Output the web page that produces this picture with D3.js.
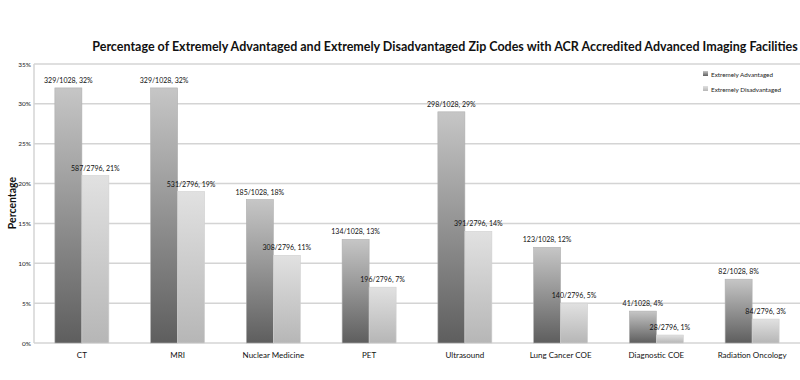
<!DOCTYPE html>
<html><head><meta charset="utf-8">
<script src="https://cdn.jsdelivr.net/npm/d3@7"></script>
<style>body{margin:0;background:#fff}svg{display:block}text{font-family:Lato,"Open Sans",sans-serif}</style>
</head><body><svg id="c" width="800" height="380"></svg>
<script>
const categories = ["CT","MRI","Nuclear Medicine","PET","Ultrasound","Lung Cancer COE","Diagnostic COE","Radiation Oncology"];
const seriesNames = ["Extremely Advantaged","Extremely Disadvantaged"];
const advantaged = [32,32,18,13,29,12,4,8];
const disadvantaged = [21,19,11,7,14,5,1,3];
const advLabels = ["329/1028, 32%","329/1028, 32%","185/1028, 18%","134/1028, 13%","298/1028, 29%","123/1028, 12%","41/1028, 4%","82/1028, 8%"];
const disLabels = ["587/2796, 21%","531/2796, 19%","308/2796, 11%","196/2796, 7%","391/2796, 14%","140/2796, 5%","28/2796, 1%","84/2796, 3%"];
const yTicks = [0,5,10,15,20,25,30,35];

const svg = d3.select("#c");
const m = {l:34, r:0, t:64, b:37};
const W = 800, H = 380;
const x = d3.scaleBand().domain(categories).range([m.l, W-m.r]);
const y = d3.scaleLinear().domain([0,35]).range([H-m.b, m.t]);
const barW = 27;

const defs = svg.append("defs");
const g1 = defs.append("linearGradient").attr("id","gA").attr("x1",0).attr("y1",1).attr("x2",0).attr("y2",0);
g1.append("stop").attr("offset","0%").attr("stop-color","#5e5e5e");
g1.append("stop").attr("offset","100%").attr("stop-color","#c6c6c6");
const g2 = defs.append("linearGradient").attr("id","gD").attr("x1",0).attr("y1",1).attr("x2",0).attr("y2",0);
g2.append("stop").attr("offset","0%").attr("stop-color","#b6b6b6");
g2.append("stop").attr("offset","100%").attr("stop-color","#e1e1e1");

// gridlines
svg.append("g").selectAll("line").data(yTicks).join("line")
  .attr("x1", m.l).attr("x2", W).attr("y1", d=>y(d)).attr("y2", d=>y(d))
  .attr("stroke", "#d4d4d4").attr("stroke-width", 1.5);
// left axis line
svg.append("line").attr("x1",m.l).attr("x2",m.l).attr("y1",y(35)).attr("y2",y(0)).attr("stroke","#d4d4d4").attr("stroke-width",1.5);

// y tick labels
svg.append("g").selectAll("text").data(yTicks).join("text")
  .attr("x", 31).attr("y", d=>y(d)+2.5).attr("text-anchor","end")
  .attr("font-size",6.5).attr("fill","#222").text(d=>d+"%");

const cx = d => x(d) + x.bandwidth()/2;
// bars
svg.append("g").selectAll("rect").data(categories).join("rect")
  .attr("x", d=>cx(d)-barW).attr("width", barW)
  .attr("y", (d,i)=>y(advantaged[i])).attr("height",(d,i)=>y(0)-y(advantaged[i]))
  .attr("fill","url(#gA)").attr("stroke","#b0b0b0").attr("stroke-width",0.6);
svg.append("g").selectAll("rect").data(categories).join("rect")
  .attr("x", d=>cx(d)).attr("width", barW)
  .attr("y", (d,i)=>y(disadvantaged[i])).attr("height",(d,i)=>y(0)-y(disadvantaged[i]))
  .attr("fill","url(#gD)").attr("stroke","#d0d0d0").attr("stroke-width",0.6);

// data labels
svg.append("g").selectAll("text").data(categories).join("text")
  .attr("x", d=>cx(d)-barW/2).attr("y",(d,i)=>y(advantaged[i])-5)
  .attr("text-anchor","middle").attr("font-size",7).attr("fill","#111").text((d,i)=>advLabels[i]);
svg.append("g").selectAll("text").data(categories).join("text")
  .attr("x", d=>cx(d)+barW/2).attr("y",(d,i)=>y(disadvantaged[i])-5)
  .attr("text-anchor","middle").attr("font-size",7).attr("fill","#111").text((d,i)=>disLabels[i]);

// category labels
svg.append("g").selectAll("text").data(categories).join("text")
  .attr("x", d=>cx(d)).attr("y", y(0)+15).attr("text-anchor","middle")
  .attr("font-size",8).attr("fill","#111").text(d=>d);

// title
svg.append("text").attr("x",445).attr("y",51).attr("text-anchor","middle")
  .attr("font-size",12.5).attr("font-weight","bold").attr("fill","#111")
  .text("Percentage of Extremely Advantaged and Extremely Disadvantaged Zip Codes with ACR Accredited Advanced Imaging Facilities");

// y axis title
svg.append("text").attr("transform","translate(16,203) rotate(-90)").attr("text-anchor","middle")
  .attr("font-size",10.5).attr("font-weight","bold").attr("fill","#111").text("Percentage");

// legend
const lg = svg.append("g").selectAll("g").data(seriesNames).join("g")
  .attr("transform",(d,i)=>`translate(703,${75+i*15})`);
lg.append("rect").attr("x",0).attr("y",-4).attr("width",5).attr("height",5)
  .attr("fill",(d,i)=>i===0?"url(#gA)":"url(#gD)");
lg.append("text").attr("x",8).attr("y",1.5).attr("font-size",6.3).attr("fill","#222").text(d=>d);
</script></body></html>
